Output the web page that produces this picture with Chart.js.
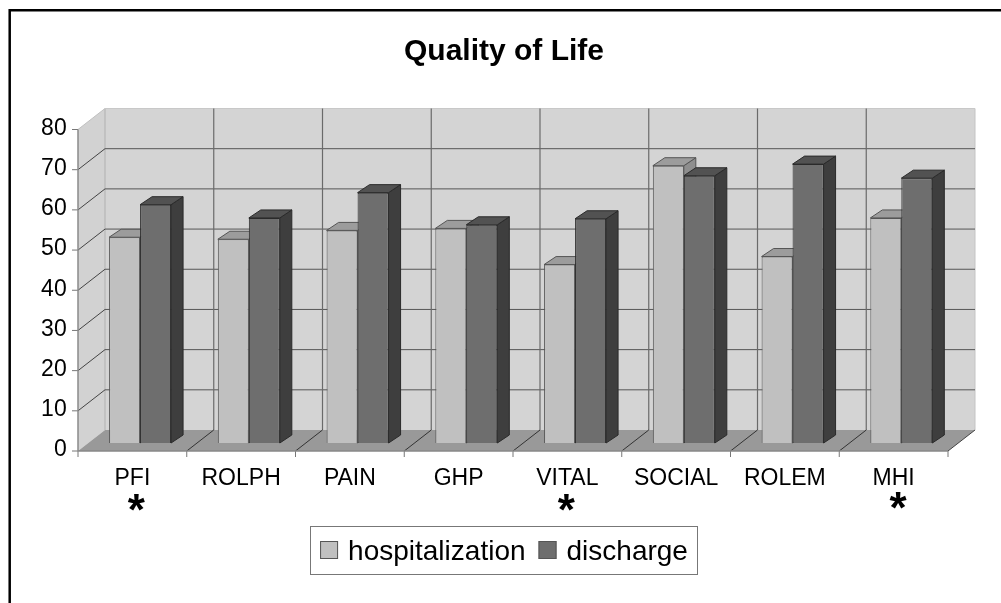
<!DOCTYPE html>
<html><head><meta charset="utf-8">
<style>html,body{margin:0;padding:0;background:#fff}canvas{display:block}</style>
<script src="https://cdn.jsdelivr.net/npm/chart.js@4"></script></head>
<body><div style="width:1001px;height:603px"><canvas id="c" width="1001" height="603"></canvas></div>
<script>
const categories=['PFI','ROLPH','PAIN','GHP','VITAL','SOCIAL','ROLEM','MHI'];
const hospitalization=[51.2,50.7,52.9,53.4,44.4,69,46.4,56];
const discharge=[59.3,56,62.3,54.3,55.8,66.5,69.4,65.9];
const starred=['PFI','VITAL','MHI'];
const starNudge=[4,-1,4.5];
const FONT='"Liberation Sans",Arial,sans-serif';
const FRONT={dx:-7.7,dy:8}, BACK={dx:19.3,dy:-13}, BAR={dx:12,dy:-8};
function poly(ctx,pts,fill,stroke,lw){ctx.beginPath();pts.forEach((p,i)=>i?ctx.lineTo(p[0],p[1]):ctx.moveTo(p[0],p[1]));ctx.closePath();
 if(fill){ctx.fillStyle=fill;ctx.fill();} if(stroke){ctx.strokeStyle=stroke;ctx.lineWidth=lw||1;ctx.stroke();}}
function line(ctx,x1,y1,x2,y2,c,lw){ctx.beginPath();ctx.moveTo(x1,y1);ctx.lineTo(x2,y2);ctx.strokeStyle=c;ctx.lineWidth=lw||1;ctx.stroke();}
const depth={id:'depth',
 beforeDraw(ch){const c=ch.ctx;c.save();c.fillStyle='#fff';c.fillRect(0,0,ch.width,ch.height);
  line(c,9.7,10.3,ch.width,10.3,'#000',2.5);line(c,9.7,9,9.7,ch.height,'#000',2.5);c.restore();},
 beforeDatasetsDraw(ch){const c=ch.ctx,a=ch.chartArea,x=ch.scales.x,y=ch.scales.y;
  const fl=a.left+FRONT.dx,fr=a.right+FRONT.dx,bl=a.left+BACK.dx,br=a.right+BACK.dx;
  const y0=y.getPixelForValue(0),yT=y.getPixelForValue(80);
  const f0=y0+FRONT.dy,fT=yT+FRONT.dy,b0=y0+BACK.dy,bT=yT+BACK.dy;
  c.save();
  poly(c,[[bl,bT],[br,bT],[br,b0],[bl,b0]],'#d4d4d4');
  poly(c,[[fl,fT],[bl,bT],[bl,b0],[fl,f0]],'#d2d2d2');
  poly(c,[[fl,f0],[bl,b0],[br,b0],[fr,f0]],'#999999');
  line(c,bl,bT,bl,b0,'#b0b0b0',1);line(c,fl,fT,bl,bT,'#c0c0c0',1);line(c,br,bT,br,b0,'#c4c4c4',1);line(c,bl,bT,br,bT,'#c8c8c8',1);
  y.ticks.forEach(t=>{const p=y.getPixelForValue(t.value);
   if(t.value>0&&t.value<80){line(c,fl,p+FRONT.dy,bl,p+BACK.dy,'#444',1);line(c,bl,p+BACK.dy,br,p+BACK.dy,'#555',1);}
   line(c,fl-6,p+FRONT.dy,fl,p+FRONT.dy,'#777',1);});
  for(let i=0;i<=categories.length;i++){const px=a.left+(a.right-a.left)*i/categories.length;
   if(i>0&&i<categories.length){line(c,px+BACK.dx,bT,px+BACK.dx,b0,'#6a6a6a',1.2);line(c,px+FRONT.dx,f0,px+BACK.dx,b0,'#333',1);}
   if(i==categories.length)line(c,px+FRONT.dx,f0,px+BACK.dx,b0,'#444',1);
   line(c,px+FRONT.dx,f0,px+FRONT.dx,f0+6,'#777',1);}
  line(c,fl,fT,fl,f0,'#8a8a8a',1.5);line(c,fl,f0,fr,f0,'#888',1.5);
  const shades=[{top:'#9c9c9c',side:'#8e8e8e',edge:'#555'},{top:'#525252',side:'#3e3e3e',edge:'#2a2a2a'}];
  const n=categories.length;
  for(let i=0;i<n;i++)for(let d=0;d<2;d++){const e=ch.getDatasetMeta(d).data[i];
   const l=e.x-e.width/2,r=e.x+e.width/2,tp=e.y,bs=e.base,s=shades[d];
   poly(c,[[r,tp],[r+BAR.dx,tp+BAR.dy],[r+BAR.dx,bs+BAR.dy],[r,bs]],s.side,s.edge,1);
   poly(c,[[l,tp],[l+BAR.dx,tp+BAR.dy],[r+BAR.dx,tp+BAR.dy],[r,tp]],s.top,s.edge,1);}
  c.restore();},
 afterDraw(ch){const c=ch.ctx,x=ch.scales.x,l=ch.legend;c.save();
  c.strokeStyle='#777';c.lineWidth=1;c.strokeRect(310.5,526.5,387,48);
  l.legendHitBoxes.forEach((h,i)=>{const ds=ch.data.datasets[i];
   c.fillStyle=ds.backgroundColor;c.strokeStyle='#555';c.fillRect(h.left,541,18,18);c.strokeRect(h.left+.5,541.5,17,17);});
  c.fillStyle='#000';c.font='bold 44px '+FONT;c.textAlign='center';c.textBaseline='alphabetic';
  let s=0;categories.forEach((k,i)=>{if(starred.includes(k)){c.fillText('*',x.getPixelForValue(i)+FRONT.dx+starNudge[s],k==='MHI'?523:525);s++;}});
  c.restore();}};
new Chart(document.getElementById('c'),{type:'bar',
 data:{labels:categories,datasets:[
  {label:'hospitalization',data:hospitalization,backgroundColor:'#c0c0c0',borderColor:'#555',borderWidth:1,categoryPercentage:.57,barPercentage:1},
  {label:'discharge',data:discharge,backgroundColor:'#6e6e6e',borderColor:'#2a2a2a',borderWidth:1,categoryPercentage:.57,barPercentage:1}]},
 options:{responsive:false,animation:false,
  layout:{padding:{left:7,right:0,top:0,bottom:27}},
  plugins:{tooltip:{enabled:false},
   title:{display:true,text:'Quality of Life',color:'#000',font:{family:FONT,size:30,weight:'bold'},padding:{top:33.5,bottom:52}},
   legend:{position:'bottom',align:'center',labels:{color:'#000',font:{family:FONT,size:28},boxWidth:14,boxHeight:18,padding:13,
     generateLabels(ch){return Chart.defaults.plugins.legend.labels.generateLabels(ch).map(o=>Object.assign(o,{fillStyle:'transparent',strokeStyle:'transparent',lineWidth:0}));}}}},
  scales:{
   x:{grid:{display:false},border:{display:false},ticks:{color:'#000',font:{family:FONT,size:23},padding:14,labelOffset:-7.7,maxRotation:0,autoSkip:false},
      afterFit(s){s.height=82;}},
   y:{min:0,max:80,grid:{display:false},border:{display:false},ticks:{stepSize:10,color:'#000',font:{family:FONT,size:23},padding:11,labelOffset:7},
      afterFit(s){s.width=78.7;}},
   y2:{position:'right',min:0,max:80,grid:{display:false},border:{display:false},ticks:{display:false},afterFit(s){s.width=45.3;}}
  }},plugins:[depth]});
</script></body></html>
